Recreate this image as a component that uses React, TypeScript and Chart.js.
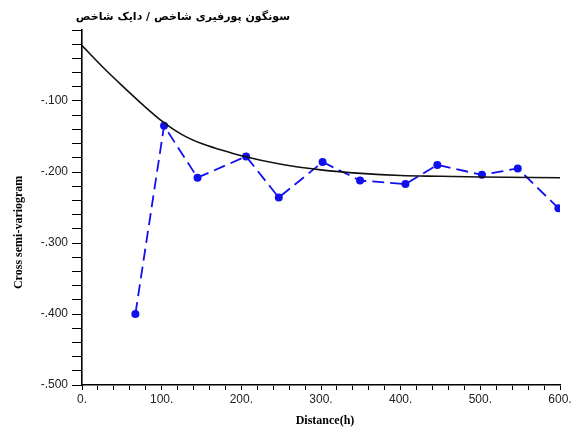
import React, { useEffect, useRef } from "react";
import { Chart, registerables } from "chart.js";

Chart.register(...registerables);

// Experimental cross semi-variogram (lag distance / value)
const lagDistances = [67, 103, 145, 206, 247, 302, 349, 406, 446, 502, 547, 598];
const lagValues = [-400, -135, -208, -178, -236, -186, -212, -217, -190, -204, -195, -251];

// Fitted model curve
const modelDistances = [0, 25, 50, 75, 100, 125, 150, 175, 200, 250, 300, 350, 400, 450, 500, 600];
const modelValues = [-22, -51, -78, -104, -128, -147, -160, -169, -177, -189, -197, -202, -205, -206, -207, -208];

const chartTitle = "سونگون پورفیری شاخص / دایک شاخص";
const xTitle = "Distance(h)";
const yTitle = "Cross semi-variogram";

const xLabel = (v: number) => (v % 100 === 0 ? `${v}.` : "");
const yLabel = (v: number) => (v % 100 === 0 && v !== 0 ? `-.${Math.abs(v)}` : "");

const titlesPlugin = {
  id: "titles",
  afterDraw(chart: any) {
    const { ctx, chartArea } = chart;
    ctx.save();
    ctx.fillStyle = "#000";

    // chart heading (Persian, right-to-left)
    ctx.font = "bold 11px 'DejaVu Sans', sans-serif";
    ctx.direction = "rtl";
    ctx.textAlign = "right";
    ctx.textBaseline = "middle";
    ctx.fillText(chartTitle, chartArea.left + 208, 17);

    ctx.direction = "ltr";
    // x axis title
    ctx.font = "bold 12px 'Liberation Serif', serif";
    ctx.textAlign = "center";
    ctx.fillText(xTitle, (chartArea.left + chartArea.right) / 2 + 4, 421);

    // y axis title
    ctx.translate(19, chartArea.top + (chartArea.bottom - chartArea.top) * 0.57);
    ctx.rotate(-Math.PI / 2);
    ctx.fillText(yTitle, 0, 0);
    ctx.restore();
  },
};

export default function App() {
  const canvasRef = useRef<HTMLCanvasElement>(null);

  useEffect(() => {
    document.body.style.margin = "0";
    const canvas = canvasRef.current;
    if (!canvas) return;

    const chart = new Chart(canvas, {
      type: "scatter",
      data: {
        datasets: [
          {
            label: "model",
            data: modelDistances.map((x, i) => ({ x, y: modelValues[i] })),
            showLine: true,
            borderColor: "#111",
            borderWidth: 1.6,
            pointRadius: 0,
            cubicInterpolationMode: "monotone",
          },
          {
            label: "experimental",
            data: lagDistances.map((x, i) => ({ x, y: lagValues[i] })),
            showLine: true,
            borderColor: "#1010ee",
            backgroundColor: "#1010ee",
            borderWidth: 1.8,
            borderDash: [12, 6],
            pointRadius: 4,
            pointBorderWidth: 0,
            pointBackgroundColor: "#1010ee",
          },
        ],
      },
      options: {
        responsive: false,
        animation: false,
        layout: { padding: { top: 30, right: 17, left: 0, bottom: 0 } },
        plugins: {
          legend: { display: false },
          tooltip: { enabled: false },
        },
        scales: {
          x: {
            type: "linear",
            min: 0,
            max: 600,
            afterFit: (scale: any) => {
              scale.height = 51;
            },
            border: { display: true, color: "#000", width: 1.6 },
            grid: { drawOnChartArea: false, drawTicks: true, tickLength: 5, color: "#000" },
            ticks: {
              stepSize: 20,
              autoSkip: false,
              maxRotation: 0,
              padding: 2,
              color: "#222",
              font: { family: "'Liberation Sans', Arial, sans-serif", size: 12 },
              callback: (v: any) => xLabel(Number(v)),
            },
          },
          y: {
            type: "linear",
            min: -500,
            max: 0,
            afterFit: (scale: any) => {
              scale.width = 82;
            },
            border: { display: true, color: "#000", width: 1.6 },
            grid: { drawOnChartArea: false, drawTicks: true, tickLength: 10, color: "#000" },
            ticks: {
              stepSize: 20,
              autoSkip: false,
              padding: 4,
              color: "#222",
              font: { family: "'Liberation Sans', Arial, sans-serif", size: 12 },
              callback: (v: any) => yLabel(Number(v)),
            },
          },
        },
      },
      plugins: [titlesPlugin],
    } as any);

    return () => chart.destroy();
  }, []);

  return <canvas ref={canvasRef} width={577} height={436} style={{ display: "block" }} />;
}
